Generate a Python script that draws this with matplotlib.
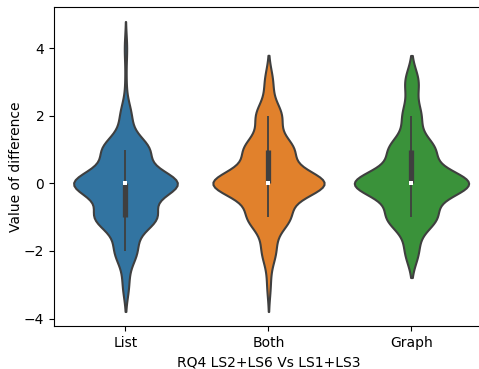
import matplotlib

matplotlib.use("Agg")
import matplotlib.pyplot as plt
import numpy as np
import pandas as pd
import seaborn as sns

# per-condition differences, stored as counts of each integer value
groups = ["List", "Both", "Graph"]
list_values = [-3, -2, -1, 0, 1, 2, 3, 4]
list_counts = [5, 18, 50, 86, 38, 9, 1, 2]
both_values = [-3, -2, -1, 0, 1, 2, 3]
both_counts = [3, 12, 36, 98, 42, 22, 7]
graph_values = [-2, -1, 0, 1, 2, 3]
graph_counts = [11, 40, 95, 37, 15, 11]

samples = {
    "List": np.repeat(list_values, list_counts),
    "Both": np.repeat(both_values, both_counts),
    "Graph": np.repeat(graph_values, graph_counts),
}
df = pd.DataFrame([(g, v) for g in groups for v in samples[g]],
                  columns=["group", "diff"])

fig = plt.figure(figsize=(4.79, 3.69), dpi=100)
ax = fig.add_axes([0.1127, 0.1165, 0.8956, 0.8645])
sns.violinplot(data=df, x="group", y="diff", order=groups,
               inner=None, linewidth=1.5, ax=ax)

# one colour per violin, toned down like seaborn's default saturation
colors = [sns.desaturate(c, 0.75) for c in sns.color_palette()[:3]]
for coll, c in zip(ax.collections, colors):
    coll.set_facecolor(c)

# inner box: thin whisker, thick IQR bar, white median dot
box_color = "#3f3f3f"
for i, g in enumerate(groups):
    d = samples[g]
    q1, med, q3 = np.percentile(d, [25, 50, 75])
    lim = 1.5 * (q3 - q1)
    lo = d[d >= q1 - lim].min()
    hi = d[d <= q3 + lim].max()
    ax.vlines(i, lo, hi, color=box_color, linewidth=1.3, zorder=3)
    ax.vlines(i, q1, q3, color=box_color, linewidth=3.8, zorder=3)
    ax.scatter(i, med, s=6, color="white", marker="s", zorder=4,
               linewidths=0)

ax.set_xlim(-0.5, 2.5)
ax.set_xlabel("RQ4 LS2+LS6 Vs LS1+LS3")
ax.set_ylabel("Value of difference", labelpad=0.5)
fig.savefig("out.png", dpi=100)
